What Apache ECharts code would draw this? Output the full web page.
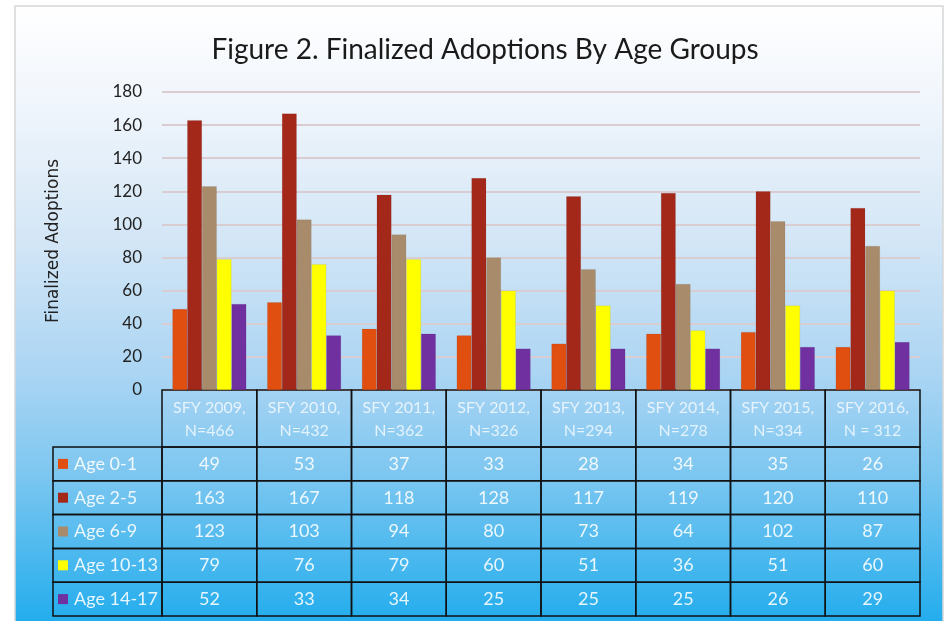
<!DOCTYPE html>
<html>
<head>
<meta charset="utf-8">
<title>Finalized Adoptions By Age Groups</title>
<script src="https://cdn.jsdelivr.net/npm/echarts@6/dist/echarts.min.js"></script>
<style>
  body { margin: 0; background: #fff; }
  #main { width: 949px; height: 621px; }
</style>
</head>
<body>
<div id="main"></div>
<script>
// data
const years = ['SFY 2009,', 'SFY 2010,', 'SFY 2011,', 'SFY 2012,', 'SFY 2013,', 'SFY 2014,', 'SFY 2015,', 'SFY 2016,'];
const totals = ['N=466', 'N=432', 'N=362', 'N=326', 'N=294', 'N=278', 'N=334', 'N = 312'];
const groups = ['Age 0-1', 'Age 2-5', 'Age 6-9', 'Age 10-13', 'Age 14-17'];
const age0to1 = [49, 53, 37, 33, 28, 34, 35, 26];
const age2to5 = [163, 167, 118, 128, 117, 119, 120, 110];
const age6to9 = [123, 103, 94, 80, 73, 64, 102, 87];
const age10to13 = [79, 76, 79, 60, 51, 36, 51, 60];
const age14to17 = [52, 33, 34, 25, 25, 25, 26, 29];
const yMin = 0, yMax = 180, yStep = 20;

const values = [age0to1, age2to5, age6to9, age10to13, age14to17];
const colors = ['#e04e10', '#a3281a', '#a88b6b', '#ffff00', '#7030a0'];

const chartDom = document.getElementById('main');
const myChart = echarts.init(chartDom);

const option = {
  animation: false,
  title: {
    text: 'Figure 2. Finalized Adoptions By Age Groups',
    left: 480,
    textAlign: 'center',
    top: 31,
    textStyle: {
      fontFamily: 'Lato',
      fontSize: 28,
      fontWeight: 'normal',
      color: '#1a1a1a'
    }
  },
  grid: { left: 162, right: 29, top: 92, bottom: 231 },
  xAxis: {
    type: 'category',
    data: years,
    axisLine: { show: false },
    axisTick: { show: false },
    axisLabel: {
      margin: 6,
      interval: 0,
      formatter: (v, i) => v + '\n' + totals[i],
      fontFamily: 'Lato',
      fontSize: 16,
      lineHeight: 23,
      color: 'rgba(255,255,255,0.75)'
    }
  },
  yAxis: {
    type: 'value',
    min: yMin,
    max: yMax,
    interval: yStep,
    name: 'Finalized Adoptions',
    nameLocation: 'middle',
    nameGap: 100,
    nameTextStyle: {
      fontFamily: 'DejaVu Sans',
      fontSize: 17,
      color: '#222'
    },
    axisLine: { show: false },
    axisTick: { show: false },
    axisLabel: {
      margin: 20,
      fontFamily: 'Lato',
      fontSize: 17,
      color: '#222'
    },
    splitLine: { lineStyle: { color: '#d9cdd1', width: 2 } }
  },
  series: groups.map((g, k) => ({
    name: g,
    type: 'bar',
    data: values[k],
    barGap: '0%',
    barCategoryGap: '22%',
    itemStyle: { color: colors[k], borderColor: 'rgba(0,0,0,0.12)', borderWidth: 0.5 }
  }))
};
myChart.setOption(option);

// background frame and data table, placed from the category axis
const graphics = [];
graphics.push({
  type: 'rect',
  z: -10,
  shape: { x: 15, y: 6, width: 928, height: 620 },
  style: {
    stroke: '#d6d6d6',
    lineWidth: 1.5,
    fill: new echarts.graphic.LinearGradient(0, 0, 0, 1, [
      { offset: 0, color: '#ffffff' },
      { offset: 0.15, color: '#f1f6fc' },
      { offset: 0.38, color: '#d3e6f6' },
      { offset: 0.6, color: '#a9d4f3' },
      { offset: 0.75, color: '#7ec7f0' },
      { offset: 1, color: '#20aced' }
    ])
  }
});

const c0 = myChart.convertToPixel({ xAxisIndex: 0 }, 0);
const c1 = myChart.convertToPixel({ xAxisIndex: 0 }, 1);
const colW = c1 - c0;
const tableTop = myChart.convertToPixel({ yAxisIndex: 0 }, yMin);
const headH = 57;
const rowH = 33.8;
const leftX = 53;
const firstX = c0 - colW / 2;
const line = { stroke: '#111', lineWidth: 1.5, fill: null };

years.forEach((y, i) => {
  const x = firstX + i * colW;
  graphics.push({ type: 'rect', shape: { x: x, y: tableTop, width: colW, height: headH }, style: line });
});
groups.forEach((g, k) => {
  const ry = tableTop + headH + k * rowH;
  graphics.push({ type: 'rect', shape: { x: leftX, y: ry, width: firstX - leftX, height: rowH }, style: line });
  graphics.push({ type: 'rect', shape: { x: leftX + 5, y: ry + rowH / 2 - 5, width: 10, height: 10 }, style: { fill: colors[k] } });
  graphics.push({
    type: 'text', x: leftX + 21, y: ry + rowH / 2,
    style: { text: g, fill: 'rgba(255,255,255,0.88)', font: '18px Lato', verticalAlign: 'middle' }
  });
  values[k].forEach((v, i) => {
    const x = firstX + i * colW;
    graphics.push({ type: 'rect', shape: { x: x, y: ry, width: colW, height: rowH }, style: line });
    graphics.push({
      type: 'text', x: x + colW / 2, y: ry + rowH / 2,
      style: { text: String(v), fill: 'rgba(255,255,255,0.88)', font: '18px Lato', align: 'center', verticalAlign: 'middle' }
    });
  });
});

myChart.setOption({ graphic: { elements: graphics } });
</script>
</body>
</html>
